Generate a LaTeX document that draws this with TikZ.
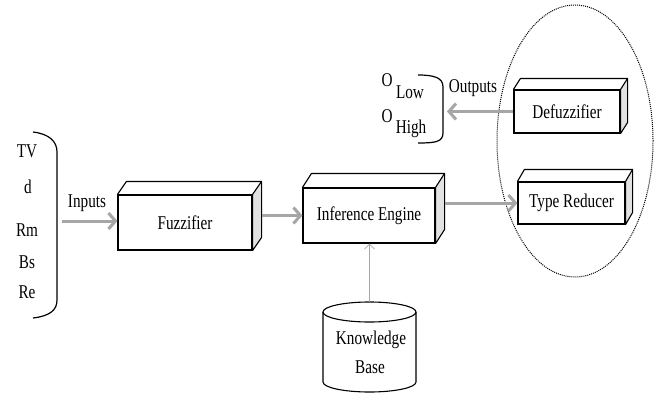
\documentclass[tikz,border=0pt]{standalone}
\usepackage{fontspec}
\setmainfont[FakeStretch=0.78]{Liberation Serif}
\usetikzlibrary{arrows.meta,shapes.geometric,calc}
\definecolor{arrowgray}{HTML}{A6A6A6}
\definecolor{sidegray}{HTML}{E2E2E2}
\newcommand\cubedepth[3]{%
  \filldraw[fill=sidegray,line width=1.1pt,line join=round] (#1.north east) -- ++(#2,#3) -- ([shift={(#2,#3)}]#1.south east) -- (#1.south east) -- cycle;
  \draw[line width=1.1pt,line join=round] (#1.north west) -- ++(#2,#3) -- ([shift={(#2,#3)}]#1.north east);
}
\begin{document}
\begin{tikzpicture}[x=1pt,y=1pt,font=\fontsize{19.5}{30}\selectfont,
  box/.style={draw, line width=1.1pt, fill=white, inner sep=0pt},
  flow/.style={draw=arrowgray, line width=3pt, -{Straight Barb[length=7pt,width=16pt]}},
  thinflow/.style={draw=arrowgray, line width=0.7pt, -{Straight Barb[length=5pt,width=10pt]}},
  lbl/.style={anchor=base, inner sep=0pt},
  brace/.style={line width=1.2pt}]
\useasboundingbox (0,0) rectangle (664,400);
% dotted group
\node[draw, ellipse, densely dotted, line width=1pt, minimum width=156pt, minimum height=272pt, inner sep=0pt] (grp) at (575,259) {};
% left inputs
\node[lbl] (tv) at (27,243) {TV};
\node[lbl] (d) at (28,207) {d};
\node[lbl] (rm) at (27,164) {Rm};
\node[lbl] (bs) at (27,132) {Bs};
\node[lbl] (re) at (27,102) {Re};
\draw[brace] (33,268) .. controls (50,266) and (57,258) .. (57,248) -- (57,100) .. controls (57,90) and (50,84) .. (33,82);
\node[lbl] (inlbl) at (87,193) {Inputs};
% boxes
\node[box, minimum width=134pt, minimum height=55pt] (fz) at (185,177.5) {Fuzzifier};
\cubedepth{fz}{9}{13}
\node[box, minimum width=132pt, minimum height=55pt] (inf) at (369,184.5) {Inference Engine};
\cubedepth{inf}{9}{14}
\node[box, minimum width=107pt, minimum height=42pt] (tr) at (571.5,197) {Type Reducer};
\cubedepth{tr}{7}{12}
\node[box, minimum width=106pt, minimum height=43pt] (df) at (567,288.5) {Defuzzifier};
\cubedepth{df}{7}{11}
% outputs
\node[lbl] (o1) at (387,313) {O};
\node[lbl] (low) at (410,302) {Low};
\node[lbl] (o2) at (387,278) {O};
\node[lbl] (high) at (411,267) {High};
\draw[brace] (418,325) .. controls (435,325) and (443,322) .. (443,313) -- (443,267) .. controls (443,258) and (435,257) .. (418,257);
\node[lbl] (outlbl) at (473,308) {Outputs};
% knowledge base
\node[inner sep=0pt, minimum width=93pt, minimum height=90pt] (kb) at (369.5,53) {};
\fill[white] (323,88) -- (323,18) arc[start angle=180,end angle=360,x radius=46.5,y radius=10] -- (416,88) -- cycle;
\draw[line width=1.1pt] (323,88) -- (323,18) arc[start angle=180,end angle=360,x radius=46.5,y radius=10] -- (416,88);
\draw[line width=1.1pt] (369.5,88) ellipse[x radius=46.5,y radius=10];
\node[lbl] (kb1) at (371,56) {Knowledge};
\node[lbl] (kb2) at (370,27) {Base};
% connectors
\coordinate (inStart) at (62,179);
\draw[flow] (inStart) -- (inStart -| fz.west);
\draw[flow] ($(fz.east |- inf.west)+(9,0)$) -- (inf.west);
\draw[flow] ($(inf.east |- tr.west)+(9,0)$) -- (tr.west);
\coordinate (outEnd) at (447,288.5);
\draw[flow] (df.west) -- (outEnd);
\draw[thinflow] (kb.north) -- (kb.north |- inf.south);
\end{tikzpicture}
\end{document}
